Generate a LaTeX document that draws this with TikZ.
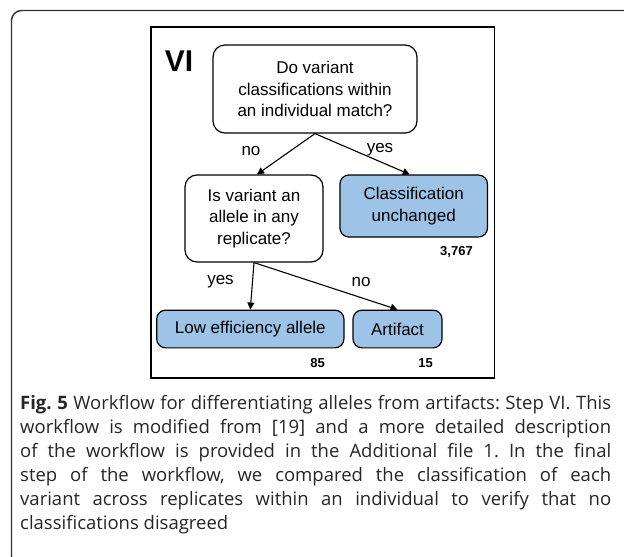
\documentclass[tikz,border=0pt]{standalone}
\usepackage{fontspec}
\usetikzlibrary{arrows.meta}
\newfontfamily\capfont{Open Sans}
\newfontfamily\diafont{Liberation Sans}
\definecolor{boxblue}{RGB}{157,195,230}
\definecolor{framegray}{RGB}{50,50,50}
\frenchspacing
\tikzset{
  qbox/.style={draw=black, line width=1.2pt, fill=white, rounded corners=12pt, align=center, inner sep=0pt,
    font=\diafont\fontsize{17}{21.3}\selectfont},
  rbox/.style={draw=black, line width=1.2pt, fill=boxblue, rounded corners=9pt, align=center, inner sep=0pt,
    font=\diafont\fontsize{17}{21.3}\selectfont},
  lbl/.style={font=\diafont\fontsize{17}{20}\selectfont, inner sep=0pt},
  num/.style={font=\diafont\bfseries\fontsize{13}{15}\selectfont, inner sep=0pt},
  conn/.style={line width=1.1pt, -{Triangle[length=7pt,width=7pt]}},
  capline/.style={anchor=base west, inner sep=0pt, font=\capfont\fontsize{18.5}{24}\selectfont, text=black!85}
}
\begin{document}
\begin{tikzpicture}[x=1pt,y=-1pt]
\useasboundingbox (0,0) rectangle (624,557);
\fill[white] (0,0) rectangle (624,557);
% outer frame
\draw[framegray, line width=1.4pt, rounded corners=10pt] (11.5,10.5) rectangle (680,566);
% inner frame
\draw[black, line width=1.4pt] (151,27) rectangle (494.5,378);
\node[font=\diafont\bfseries\fontsize{30}{30}\selectfont, inner sep=0pt] (vi) at (179,61) {VI};
% boxes
\node[qbox, minimum width=204pt, minimum height=88pt] (q1) at (315,89) {Do variant\\classifications within\\an individual match?};
\node[qbox, minimum width=138pt, minimum height=87pt] (q2) at (254,218.5) {Is variant an\\allele in any\\replicate?};
\node[rbox, minimum width=147.5pt, minimum height=62pt] (unch) at (413.7,206) {Classification\\unchanged};
\node[rbox, minimum width=187.3pt, minimum height=37.7pt] (low) at (250.3,329) {Low efficiency allele};
\node[rbox, minimum width=89pt, minimum height=37.7pt] (art) at (397.5,329) {Artifact};
% connectors
\draw[conn] (q1.south) -- ([xshift=3pt]q2.north);
\draw[conn] (q1.south) -- ([xshift=-4pt]unch.north);
\draw[conn] (q2.south) -- (low.north);
\draw[conn] (q2.south) -- (art.north);
% labels
\node[lbl] (l1) at (251,151) {no};
\node[lbl] (l2) at (380,150) {yes};
\node[lbl] (l3) at (220.5,281.7) {yes};
\node[lbl] (l4) at (361,281.7) {no};
\node[num] (n1) at (456.5,251.7) {3,767};
\node[num] (n2) at (317.5,363) {85};
\node[num] (n3) at (425.5,363) {15};
% caption
\node[capline] (c1) at (20,409) {\makebox[591pt][s]{\textbf{Fig. 5} Workflow for differentiating alleles from artifacts: Step VI. This}};
\node[capline] (c2) at (20,433) {\makebox[591pt][s]{workflow is modified from [19] and a more detailed description}};
\node[capline] (c3) at (20,457) {\makebox[591pt][s]{of the workflow is provided in the Additional file 1. In the final}};
\node[capline] (c4) at (20,481) {\makebox[591pt][s]{step of the workflow, we compared the classification of each}};
\node[capline] (c5) at (20,505) {\makebox[591pt][s]{variant across replicates within an individual to verify that no}};
\node[capline] (c6) at (20,529) {classifications disagreed};
\end{tikzpicture}
\end{document}
